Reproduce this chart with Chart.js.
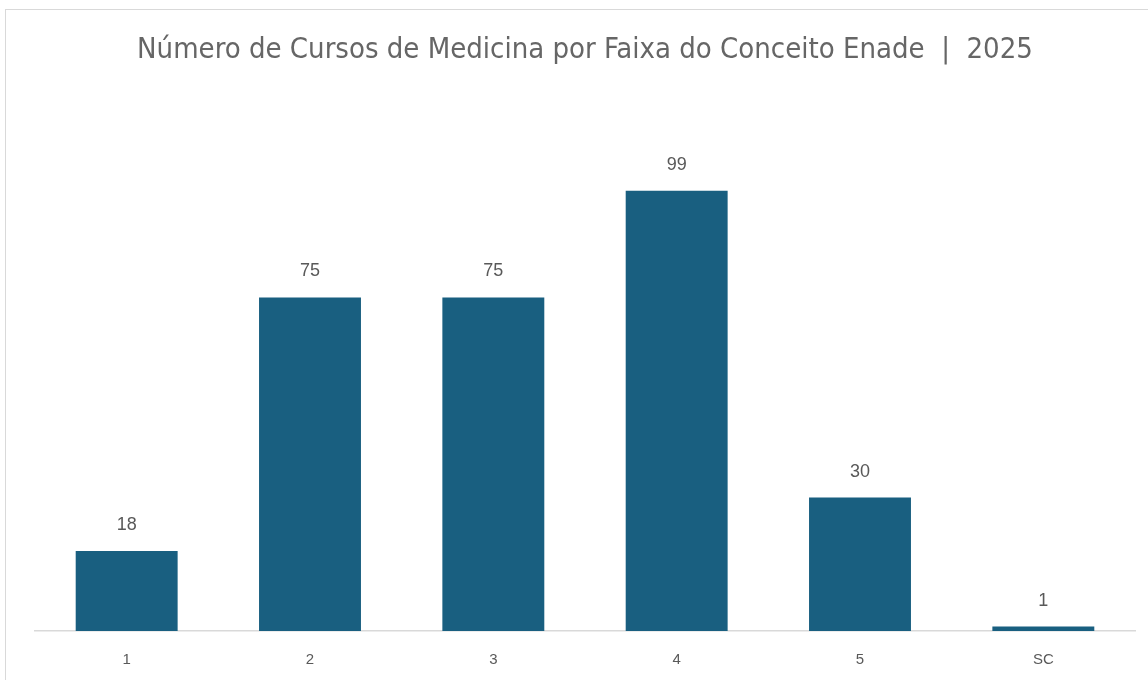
<!DOCTYPE html>
<html>
<head>
<meta charset="utf-8">
<script src="https://cdn.jsdelivr.net/npm/chart.js@4"></script>
<style>
  body { margin: 0; background: #fff; }
  #frame { position: absolute; left: 5px; top: 9px; width: 1200px; height: 720px; border: 1px solid #d9d9d9; }
  #wrap { position: absolute; left: 0; top: 0; width: 1148px; height: 680px; }
</style>
</head>
<body>
<div id="frame"></div>
<div id="wrap"><canvas id="chart"></canvas></div>
<script>
const categories = ["1", "2", "3", "4", "5", "SC"];
const cursos = [18, 75, 75, 99, 30, 1];
const titleText = "Número de Cursos de Medicina por Faixa do Conceito Enade  |  2025";

const valueLabels = {
  id: "valueLabels",
  afterDatasetsDraw(chart) {
    const ctx = chart.ctx;
    const meta = chart.getDatasetMeta(0);
    ctx.save();
    ctx.font = "18px 'Liberation Sans'";
    ctx.fillStyle = "#595959";
    ctx.textAlign = "center";
    ctx.textBaseline = "middle";
    meta.data.forEach((bar, i) => {
      ctx.fillText(String(cursos[i]), bar.x, bar.y - 26);
    });
    ctx.restore();
  }
};

new Chart(document.getElementById("chart").getContext("2d"), {
  type: "bar",
  data: {
    labels: categories,
    datasets: [{
      data: cursos,
      backgroundColor: "#195f80",
      categoryPercentage: 1,
      barPercentage: 0.556
    }]
  },
  options: {
    responsive: true,
    maintainAspectRatio: false,
    animation: false,
    layout: { padding: { left: 35, right: 13, top: 0, bottom: 0 } },
    plugins: {
      legend: { display: false },
      tooltip: { enabled: false },
      title: {
        display: true,
        text: titleText,
        color: "#666666",
        font: { family: "'DejaVu Sans Condensed', 'Liberation Sans', sans-serif", size: 29, weight: "normal" },
        padding: { top: 33, bottom: 74 }
      }
    },
    scales: {
      x: {
        grid: { display: false, drawTicks: false },
        border: { display: true, color: "#d9d9d9", width: 1.5 },
        ticks: { color: "#595959", font: { family: "'Liberation Sans'", size: 15 }, padding: 20 },
        afterFit(scale) { scale.height = 49; }
      },
      y: {
        display: false,
        min: 0,
        max: 110
      }
    }
  },
  plugins: [valueLabels]
});
</script>
</body>
</html>
